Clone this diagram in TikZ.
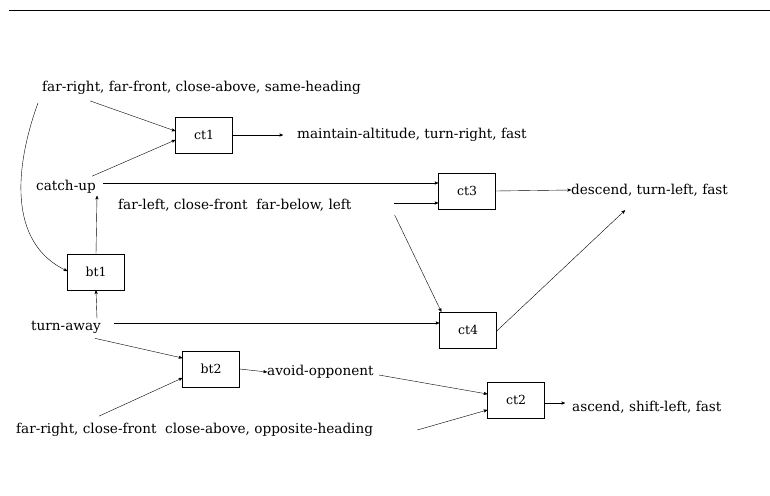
\documentclass[tikz,border=0pt]{standalone}
\usepackage{fontspec}
\setmainfont{DejaVu Serif}
\usepackage{tikz}
\usetikzlibrary{arrows}
\usetikzlibrary{positioning}

\begin{document}
\begin{tikzpicture}[x=1pt,y=-1pt,->,>=stealth',thin,
    box node/.style={rectangle,draw,minimum width=57pt,minimum height=36pt,font=\fontsize{12.5}{14}\selectfont},
    text node/.style={inner sep=0pt,font=\fontsize{13.6}{16}\selectfont}]
  \useasboundingbox (0,0) rectangle (770,495);
  % rule across the top
  \draw[-,line width=0.6pt] (9,10) -- (770,10);

  % condition and action texts
  \node[text node,anchor=west] (same) at (42,88) {far-right, far-front, close-above, same-heading};
  \node[text node] (catch) at (66,187) {catch-up};
  \node[text node,anchor=west] (left) at (118,205) {far-left, close-front\ \ far-below, left};
  \node[text node] (turn) at (66,327) {turn-away};
  \node[text node,anchor=west] (opp) at (16,430) {far-right, close-front\ \ close-above, opposite-heading};
  \node[text node,anchor=west] (avoid) at (267,372) {avoid-opponent};
  \node[text node,anchor=west] (keep) at (297,135) {maintain-altitude, turn-right, fast};
  \node[text node,anchor=west] (down) at (571,190) {descend, turn-left, fast};
  \node[text node,anchor=west] (up) at (572,407) {ascend, shift-left, fast};

  % the boxes
  \node[box node] (ct1) at (204,135) {ct1};
  \node[box node] (ct3) at (467,191) {ct3};
  \node[box node] (bt1) at (96,272) {bt1};
  \node[box node] (ct4) at (468,330) {ct4};
  \node[box node] (bt2) at (211,369) {bt2};
  \node[box node] (ct2) at (516,400) {ct2};

  % into ct1
  \path ([xshift=48pt,yshift=-6pt]same.south west) edge ([yshift=4pt]ct1.west);
  \path ([xshift=-4pt,yshift=4pt]catch.north east) edge ([yshift=-5pt]ct1.west);
  \path (ct1.east) edge ([xshift=-14pt]keep.west);
  % into ct3
  \path ([xshift=7pt,yshift=4pt]catch.east) edge ([yshift=8pt]ct3.west);
  \path ([xshift=42pt,yshift=2pt]left.east) edge ([yshift=-12pt]ct3.west);
  \path (ct3.east) edge (down.west);
  % into ct4
  \path ([xshift=43pt,yshift=-10pt]left.east) edge ([xshift=2pt]ct4.north west);
  \path ([xshift=13pt,yshift=4pt]turn.east) edge ([yshift=7pt]ct4.west);
  \path ([yshift=-1pt]ct4.east) edge ([xshift=54pt,yshift=-14pt]down.south west);
  % bt1
  \path ([xshift=-4pt,yshift=-15pt]same.west) edge[out=-110,in=155] ([yshift=1pt]bt1.west);
  \path ([xshift=31pt,yshift=2pt]turn.north) edge (bt1.south);
  \path (bt1.north) edge ([xshift=31pt,yshift=-2pt]catch.south);
  % bt2
  \path ([xshift=29pt,yshift=-5pt]turn.south) edge ([yshift=11pt]bt2.west);
  \path ([xshift=83pt,yshift=7pt]opp.north west) edge ([yshift=-9pt]bt2.west);
  \path (bt2.east) edge (avoid.west);
  % into ct2
  \path ([xshift=5pt,yshift=-3pt]avoid.east) edge ([yshift=6pt]ct2.west);
  \path ([xshift=44pt]opp.east) edge ([yshift=-10pt]ct2.west);
  \path ([yshift=-3pt]ct2.east) edge ([xshift=-7pt,yshift=4pt]up.west);
\end{tikzpicture}
\end{document}
